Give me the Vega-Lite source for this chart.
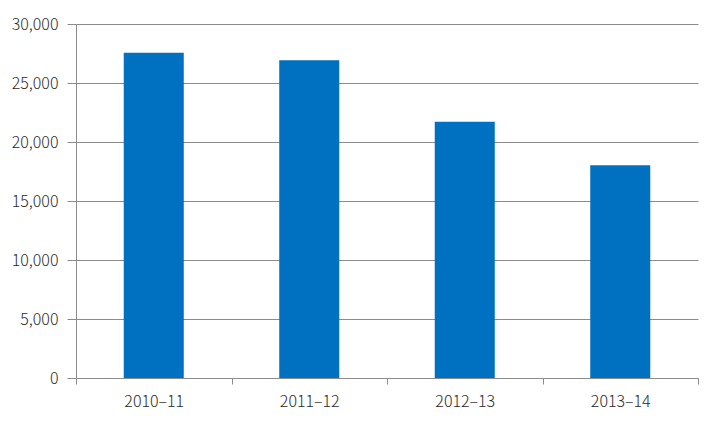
{
  "$schema": "https://vega.github.io/schema/vega-lite/v6.json",
  "width": 622,
  "height": 354,
  "autosize": "none",
  "padding": {"left": 76, "top": 24, "right": 17, "bottom": 47},
  "background": "white",
  "config": {
    "view": {"stroke": null},
    "axis": {
      "labelFont": "Noto Sans CJK KR",
      "labelFontSize": 16,
      "labelFontWeight": 300,
      "labelColor": "#2a2a2a",
      "domainColor": "#8c8c8c",
      "tickColor": "#8c8c8c",
      "gridColor": "#8c8c8c",
      "title": null
    }
  },
  "data": {
    "values": [
      {"year": "2010–11", "count": 27570},
      {"year": "2011–12", "count": 26920},
      {"year": "2012–13", "count": 21720},
      {"year": "2013–14", "count": 18020}
    ]
  },
  "mark": {"type": "bar", "color": "#0070c0", "width": {"band": 0.386}},
  "encoding": {
    "x": {
      "field": "year",
      "type": "nominal",
      "sort": null,
      "scale": {"paddingInner": 0, "paddingOuter": 0},
      "axis": {
        "labelAngle": 0,
        "tickBand": "extent",
        "tickSize": 6,
        "labelPadding": 9,
        "grid": false
      }
    },
    "y": {
      "field": "count",
      "type": "quantitative",
      "scale": {"domain": [0, 30000], "nice": false},
      "axis": {
        "values": [0, 5000, 10000, 15000, 20000, 25000, 30000],
        "format": ",d",
        "tickSize": 9,
        "labelPadding": 9,
        "grid": true
      }
    }
  }
}
